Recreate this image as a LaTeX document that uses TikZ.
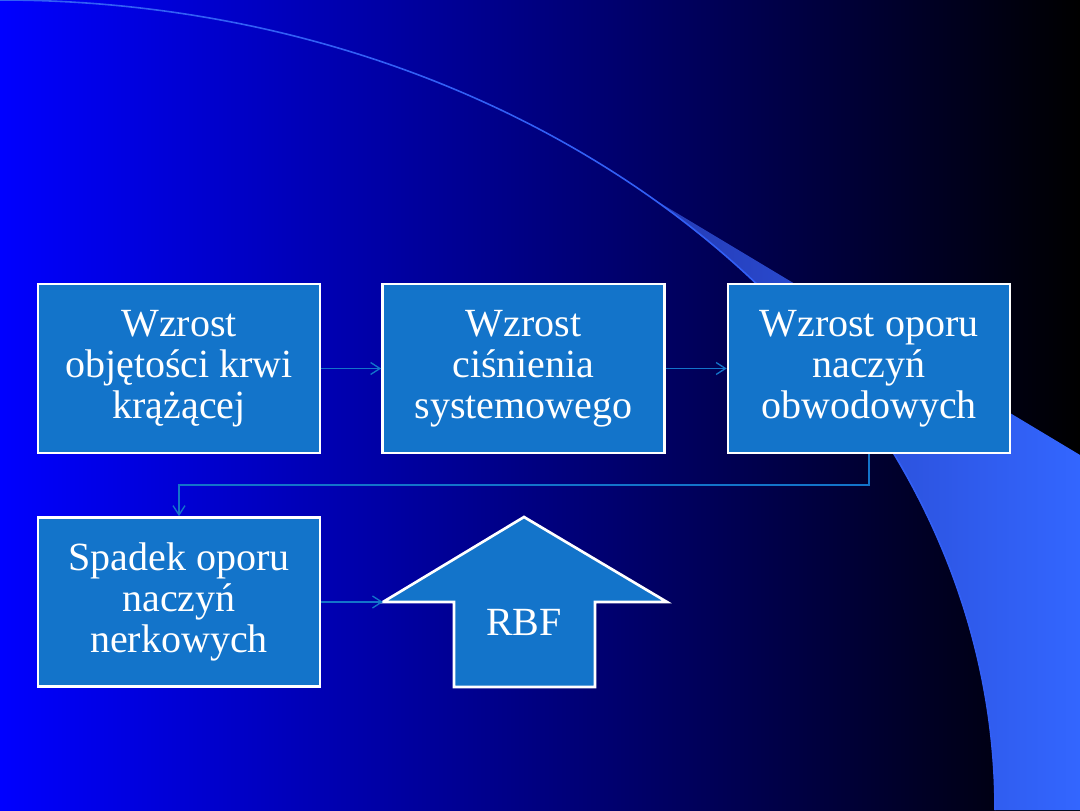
\documentclass[tikz,border=0pt]{standalone}
\usepackage{fontspec}
\setmainfont{Liberation Serif}
\usetikzlibrary{arrows.meta}

\definecolor{boxblue}{RGB}{19,116,202}
\definecolor{arcblue}{RGB}{50,95,245}
\definecolor{wedgeL}{RGB}{36,58,180}
\definecolor{wedgeR}{RGB}{51,102,255}

\begin{document}
\begin{tikzpicture}[
  x=0.75pt, y=0.75pt,
  box/.style={
    draw=white, line width=2pt, fill=boxblue, text=white,
    minimum width=211.5pt, minimum height=126.75pt,
    font=\fontsize{30}{30.75}\selectfont, align=center, inner sep=0pt
  },
  arr/.style={-{Straight Barb[length=7pt,width=9pt]}, draw=boxblue, line width=1pt},
]

\shade[left color=blue, right color=black] (0,0) rectangle (1080,810);
\useasboundingbox (0,0) rectangle (1080,810);
\shade[left color=wedgeL, right color=wedgeR]
  (650,613) arc[start angle=49.2, end angle=0, x radius=995, y radius=810]
  -- (1080,0) -- (1080,355) -- cycle;
\draw[arcblue, line width=1.2pt]
  (0,810) arc[start angle=90, end angle=0, x radius=995, y radius=810];

\node[box] (vol) at (179,441.5)   {Wzrost\\objętości krwi\\krążącej};
\node[box] (sys) at (523.5,441.5) {Wzrost\\ciśnienia\\systemowego};
\node[box] (per) at (869,441.5)   {Wzrost oporu\\naczyń\\obwodowych};
\node[box] (ren) at (179,208)     {Spadek oporu\\naczyń\\nerkowych};

\draw[white, line width=2pt, fill=boxblue]
  (524,293) -- (667,208) -- (595,208) -- (595,123)
  -- (454,123) -- (454,208) -- (383,208) -- cycle;
\node[text=white, font=\fontsize{30}{30.75}\selectfont] (rbf) at (524,188) {RBF};
\coordinate (rbfin) at (383,208);
\coordinate (bend) at (869,325);

\draw[arr] (vol) -- (sys);
\draw[arr] (sys) -- (per);
\draw[arr] (per.south) -- (bend) -| (ren.north);
\draw[arr] (ren) -- (rbfin);

\end{tikzpicture}
\end{document}
